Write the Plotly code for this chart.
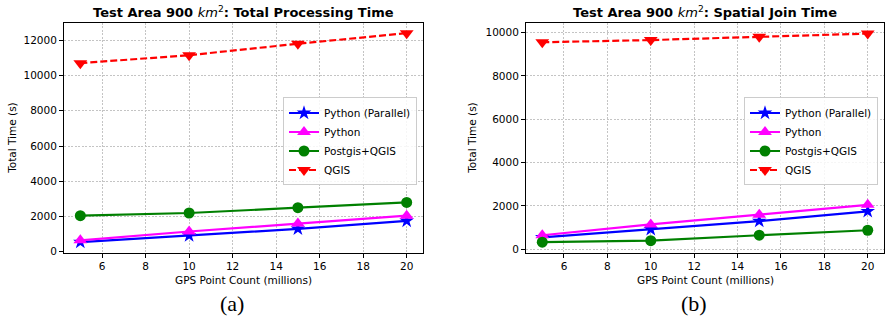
import plotly.graph_objects as go

# GPS point counts (millions)
point_counts = [5, 10, 15, 20]

# (a) total processing time (s)
total_python_parallel = [550, 920, 1300, 1750]
total_python = [650, 1150, 1600, 2050]
total_postgis_qgis = [2050, 2200, 2500, 2800]
total_qgis = [10700, 11150, 11800, 12400]

# (b) spatial join time (s)
join_python_parallel = [550, 920, 1300, 1750]
join_python = [650, 1150, 1600, 2050]
join_postgis_qgis = [330, 400, 650, 880]
join_qgis = [9550, 9650, 9800, 9950]

series_names = ["Python (Parallel)", "Python", "Postgis+QGIS", "QGIS"]
x_ticks = [6, 8, 10, 12, 14, 16, 18, 20]
y_ticks_a = [0, 2000, 4000, 6000, 8000, 10000, 12000]
y_ticks_b = [0, 2000, 4000, 6000, 8000, 10000]

styles = [
    dict(color="#0000ff", symbol="star", size=11, dash="solid"),
    dict(color="#ff00ff", symbol="triangle-up", size=12, dash="solid"),
    dict(color="#008000", symbol="circle", size=11, dash="solid"),
    dict(color="#ff0000", symbol="triangle-down", size=12, dash="7px,3px"),
]

FONT = "DejaVu Sans"

fig = go.Figure()


def add_panel(values, xaxis, yaxis, legend):
    for name, vals, st in zip(series_names, values, styles):
        fig.add_trace(go.Scatter(
            x=point_counts, y=vals, name=name, mode="lines+markers",
            xaxis=xaxis, yaxis=yaxis, legend=legend,
            line=dict(color=st["color"], width=2.2, dash=st["dash"]),
            marker=dict(color=st["color"], symbol=st["symbol"], size=st["size"],
                        line=dict(width=0)),
        ))


add_panel([total_python_parallel, total_python, total_postgis_qgis, total_qgis],
          "x", "y", "legend")
add_panel([join_python_parallel, join_python, join_postgis_qgis, join_qgis],
          "x2", "y2", "legend2")

W, H = 885, 327
ydom = [1 - 256.5 / H, 1 - 23.3 / H]

axis_common = dict(
    showline=True, linecolor="#000000", linewidth=1, mirror=True,
    ticks="outside", ticklen=4, tickwidth=1, tickcolor="#000000",
    showgrid=True, gridcolor="#c4c4c4", gridwidth=0.7, griddash="2px,1.5px",
    zeroline=False, tickformat="d",
    tickfont=dict(family=FONT, size=10.5, color="#000000"),
)

legend_common = dict(
    y=1 - 99 / H, yanchor="top", xanchor="right",
    bgcolor="rgba(255,255,255,0.85)", bordercolor="#cccccc", borderwidth=1,
    font=dict(family=FONT, size=10.5, color="#000000"),
    tracegroupgap=0, itemwidth=30,
)

fig.update_layout(
    width=W, height=H,
    margin=dict(l=0, r=0, t=0, b=0),
    paper_bgcolor="white", plot_bgcolor="white",
    showlegend=True,
    xaxis=dict(domain=[64 / W, 423 / W], range=[4.25, 20.75], tickvals=x_ticks,
               anchor="y", **axis_common),
    yaxis=dict(domain=ydom, range=[-45, 12980], tickvals=y_ticks_a,
               anchor="x", **axis_common),
    xaxis2=dict(domain=[526 / W, 884 / W], range=[4.25, 20.75], tickvals=x_ticks,
                anchor="y2", **axis_common),
    yaxis2=dict(domain=ydom, range=[-150, 10440], tickvals=y_ticks_b,
                anchor="x2", **axis_common),
    legend=dict(x=417 / W, **legend_common),
    legend2=dict(x=878 / W, **legend_common),
)

titles = [
    ("<b>Test Area 900 </b><i>km</i><sup>2</sup><b>: Total Processing Time</b>",
     (64 + 423) / 2),
    ("<b>Test Area 900 </b><i>km</i><sup>2</sup><b>: Spatial Join Time</b>",
     (526 + 884) / 2),
]
for txt, xc in titles:
    fig.add_annotation(xref="paper", yref="paper", x=xc / W, y=1 - 12 / H,
                       xanchor="center", yanchor="middle", showarrow=False,
                       text=txt, font=dict(family=FONT, size=13, color="#000000"))

# axis titles
for xc, yc, txt, ang in [
    ((64 + 423) / 2, 284, "GPS Point Count (millions)", 0),
    ((526 + 884) / 2, 284, "GPS Point Count (millions)", 0),
    (12, 140, "Total Time (s)", -90),
    (472, 140, "Total Time (s)", -90),
]:
    fig.add_annotation(xref="paper", yref="paper", x=xc / W, y=1 - yc / H,
                       xanchor="center", yanchor="middle", showarrow=False,
                       textangle=ang, text=txt,
                       font=dict(family=FONT, size=10.5, color="#000000"))

# panel labels
for xc, txt in [(232, "(a)"), (694, "(b)")]:
    fig.add_annotation(xref="paper", yref="paper", x=xc / W, y=1 - 308 / H,
                       xanchor="center", yanchor="middle", showarrow=False,
                       text=txt, font=dict(family="Liberation Serif", size=22,
                                           color="#000000"))

fig.write_html("out.html")
